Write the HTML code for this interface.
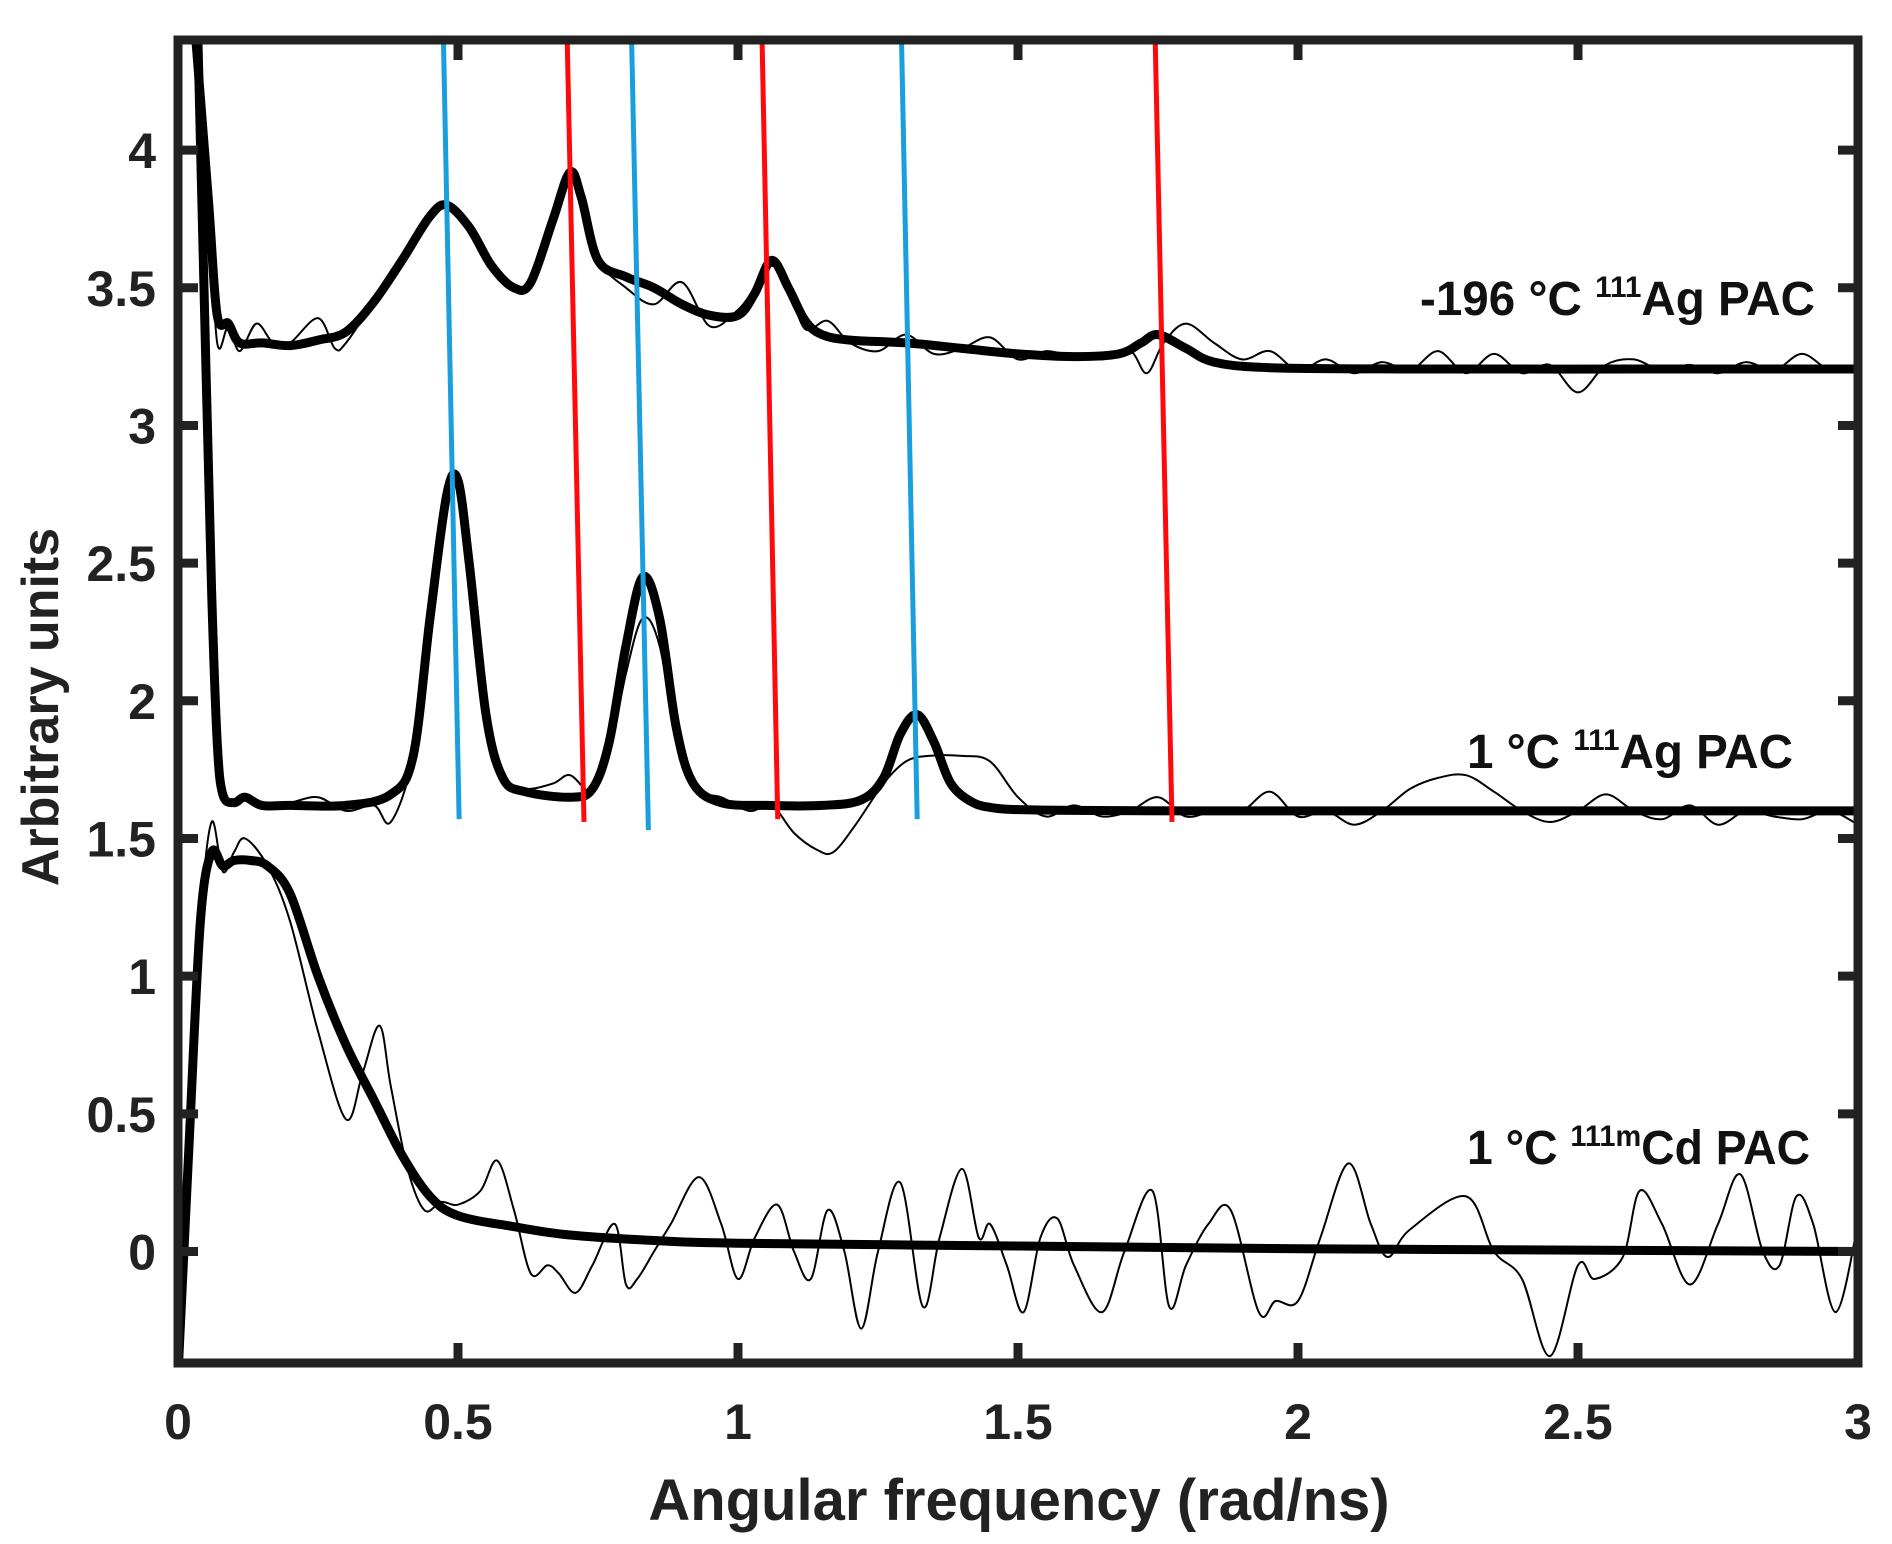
<!DOCTYPE html>
<html><head><meta charset="utf-8"><style>
html,body{margin:0;padding:0;background:#fff;}
svg{display:block;font-family:"Liberation Sans",Arial,sans-serif;}
</style></head><body>
<svg id="chart" width="1892" height="1544" viewBox="0 0 1892 1544" xmlns="http://www.w3.org/2000/svg">
<defs><clipPath id="plotclip"><rect x="178" y="40" width="1680" height="1323"/></clipPath></defs>
<g id="marks" clip-path="url(#plotclip)"></g>
<g id="axes"></g>
<text x="1019" y="1520" font-size="58" font-weight="bold" text-anchor="middle" fill="#222">Angular frequency (rad/ns)</text>
<text transform="translate(58,707) rotate(-90)" font-size="52" font-weight="bold" text-anchor="middle" fill="#222">Arbitrary units</text>
<text x="1815" y="315" font-size="48" font-weight="bold" text-anchor="end" fill="#111" textLength="395" lengthAdjust="spacingAndGlyphs">-196 °C  <tspan font-size="30" dy="-18">111</tspan><tspan dy="18">Ag PAC</tspan></text>
<text x="1793" y="768" font-size="48" font-weight="bold" text-anchor="end" fill="#111" textLength="326" lengthAdjust="spacingAndGlyphs">1 °C  <tspan font-size="30" dy="-18">111</tspan><tspan dy="18">Ag PAC</tspan></text>
<text x="1810" y="1164" font-size="48" font-weight="bold" text-anchor="end" fill="#111" textLength="343" lengthAdjust="spacingAndGlyphs">1 °C <tspan font-size="30" dy="-18">111m</tspan><tspan dy="18">Cd PAC</tspan></text>
</svg>
<script>
const xTicks=[0,0.5,1,1.5,2,2.5,3];
const xTickLabels=["0","0.5","1","1.5","2","2.5","3"];
const yTicks=[0,0.5,1,1.5,2,2.5,3,3.5,4];
const yTickLabels=["0","0.5","1","1.5","2","2.5","3","3.5","4"];
const topFitX=[0.03,0.055,0.07,0.09,0.11,0.15,0.2,0.25,0.3,0.35,0.4,0.45,0.48,0.52,0.56,0.6,0.63,0.67,0.7,0.72,0.75,0.8,0.85,0.9,0.95,1.0,1.03,1.06,1.09,1.12,1.15,1.2,1.3,1.4,1.5,1.6,1.68,1.72,1.75,1.8,1.85,1.95,2.2,2.6,3.0];
const topFitY=[4.45,3.8,3.4,3.37,3.3,3.3,3.29,3.31,3.34,3.45,3.6,3.76,3.8,3.72,3.58,3.5,3.52,3.75,3.92,3.83,3.6,3.54,3.5,3.44,3.4,3.4,3.48,3.6,3.5,3.38,3.33,3.31,3.3,3.28,3.26,3.25,3.26,3.3,3.33,3.28,3.23,3.21,3.205,3.205,3.205];
const topDataX=[0.03,0.055,0.07,0.09,0.11,0.14,0.17,0.2,0.25,0.28,0.3,0.35,0.4,0.45,0.48,0.52,0.56,0.6,0.63,0.67,0.7,0.72,0.75,0.8,0.85,0.9,0.95,1.0,1.03,1.06,1.09,1.12,1.16,1.2,1.25,1.3,1.35,1.4,1.45,1.5,1.55,1.6,1.65,1.7,1.73,1.76,1.8,1.85,1.9,1.95,2.0,2.05,2.1,2.15,2.2,2.25,2.3,2.35,2.4,2.45,2.5,2.55,2.6,2.65,2.7,2.75,2.8,2.85,2.9,2.95,3.0];
const topDataY=[4.45,3.8,3.3,3.36,3.27,3.37,3.3,3.3,3.39,3.28,3.3,3.45,3.6,3.76,3.8,3.72,3.58,3.5,3.52,3.75,3.9,3.8,3.6,3.5,3.44,3.52,3.36,3.42,3.5,3.58,3.5,3.35,3.38,3.3,3.27,3.33,3.26,3.28,3.32,3.24,3.27,3.25,3.24,3.27,3.19,3.3,3.37,3.3,3.24,3.27,3.2,3.24,3.19,3.23,3.2,3.27,3.19,3.26,3.19,3.22,3.12,3.22,3.24,3.2,3.22,3.19,3.23,3.2,3.26,3.2,3.2];
const midFitX=[0.035,0.05,0.06,0.07,0.08,0.1,0.12,0.15,0.2,0.3,0.38,0.42,0.45,0.48,0.5,0.52,0.55,0.58,0.62,0.7,0.74,0.77,0.8,0.83,0.86,0.89,0.92,0.97,1.05,1.15,1.22,1.26,1.29,1.32,1.35,1.38,1.42,1.46,1.5,1.6,1.8,2.1,2.5,3.0];
const midFitY=[4.45,3.2,2.4,1.85,1.66,1.63,1.65,1.62,1.62,1.62,1.66,1.8,2.3,2.75,2.8,2.5,1.95,1.72,1.67,1.65,1.68,1.85,2.2,2.45,2.3,1.9,1.7,1.63,1.62,1.62,1.64,1.72,1.88,1.95,1.85,1.7,1.63,1.61,1.605,1.602,1.6,1.6,1.6,1.6];
const midDataX=[0.035,0.05,0.06,0.07,0.08,0.1,0.12,0.15,0.2,0.25,0.3,0.35,0.38,0.42,0.45,0.48,0.5,0.52,0.55,0.58,0.62,0.67,0.7,0.74,0.77,0.8,0.83,0.86,0.89,0.92,0.97,1.02,1.06,1.1,1.14,1.17,1.21,1.26,1.3,1.34,1.4,1.45,1.5,1.55,1.6,1.65,1.7,1.75,1.8,1.85,1.9,1.95,2.0,2.05,2.1,2.15,2.2,2.25,2.3,2.35,2.4,2.45,2.5,2.55,2.6,2.65,2.7,2.75,2.8,2.85,2.9,2.95,3.0];
const midDataY=[4.45,3.2,2.4,1.85,1.66,1.63,1.66,1.62,1.63,1.65,1.6,1.62,1.56,1.8,2.3,2.75,2.78,2.5,1.95,1.72,1.68,1.7,1.73,1.67,1.8,2.1,2.3,2.2,1.85,1.68,1.65,1.6,1.62,1.52,1.46,1.45,1.55,1.7,1.78,1.8,1.8,1.78,1.65,1.58,1.62,1.58,1.6,1.65,1.58,1.6,1.6,1.67,1.58,1.6,1.55,1.6,1.68,1.72,1.73,1.67,1.6,1.56,1.6,1.66,1.6,1.57,1.62,1.55,1.6,1.58,1.57,1.6,1.55];
const botFitX=[0.0,0.02,0.04,0.06,0.08,0.1,0.13,0.16,0.2,0.25,0.3,0.35,0.4,0.45,0.5,0.6,0.7,0.85,1.0,1.5,2.0,2.5,3.0];
const botFitY=[-0.45,0.4,1.2,1.45,1.4,1.42,1.42,1.4,1.3,1.0,0.75,0.55,0.35,0.2,0.13,0.09,0.06,0.04,0.03,0.02,0.01,0.005,0.0];
const botDataX=[0.0,0.02,0.04,0.06,0.08,0.1,0.12,0.16,0.2,0.25,0.3,0.33,0.36,0.38,0.41,0.44,0.47,0.5,0.54,0.57,0.6,0.63,0.66,0.68,0.71,0.74,0.78,0.8,0.82,0.85,0.88,0.93,0.97,1.0,1.03,1.07,1.1,1.13,1.16,1.19,1.22,1.25,1.29,1.33,1.36,1.4,1.43,1.45,1.48,1.51,1.54,1.57,1.6,1.65,1.69,1.74,1.77,1.8,1.84,1.88,1.93,1.96,2.0,2.04,2.09,2.13,2.16,2.2,2.3,2.35,2.4,2.45,2.5,2.53,2.58,2.61,2.65,2.7,2.75,2.79,2.83,2.86,2.89,2.92,2.96,3.0];
const botDataY=[-0.45,0.4,1.2,1.56,1.38,1.45,1.5,1.4,1.2,0.8,0.48,0.65,0.82,0.6,0.3,0.15,0.18,0.17,0.22,0.33,0.15,-0.08,-0.05,-0.08,-0.15,-0.05,0.1,-0.12,-0.1,0.0,0.1,0.27,0.1,-0.1,0.05,0.17,0.0,-0.1,0.15,0.0,-0.28,0.0,0.25,-0.2,0.05,0.3,0.05,0.1,-0.05,-0.22,0.05,0.12,-0.05,-0.22,0.0,0.22,-0.2,-0.05,0.1,0.15,-0.22,-0.18,-0.18,0.05,0.32,0.1,-0.02,0.08,0.2,0.0,-0.1,-0.38,-0.05,-0.1,-0.02,0.22,0.1,-0.12,0.1,0.28,0.0,-0.05,0.2,0.1,-0.22,0.1];
const blueTopX=[0.474,0.81,1.292];
const blueBotX=[0.502,0.84,1.32];
const blueBotY=[1.57,1.53,1.57];
const redTopX=[0.695,1.043,1.745];
const redBotX=[0.725,1.071,1.775];
const redBotY=[1.56,1.57,1.56];

const X0=178,X1=1858,Y0=1363,Y1=40,XMIN=0,XMAX=3,YMIN=-0.405,YMAX=4.4;
function sx(v){return X0+(v-XMIN)/(XMAX-XMIN)*(X1-X0);}
function sy(v){return Y0-(v-YMIN)/(YMAX-YMIN)*(Y0-Y1);}
const NS="http://www.w3.org/2000/svg";
const marks=document.getElementById('marks');
const axes=document.getElementById('axes');
function pathFrom(xs,ys){
  const p=xs.map((x,i)=>[sx(x),sy(ys[i])]);
  let d="M"+p[0][0].toFixed(1)+","+p[0][1].toFixed(1);
  for(let i=0;i<p.length-1;i++){
    const a=p[Math.max(0,i-1)],b=p[i],c=p[i+1],e=p[Math.min(p.length-1,i+2)];
    const c1=[b[0]+(c[0]-a[0])/6,b[1]+(c[1]-a[1])/6];
    const c2=[c[0]-(e[0]-b[0])/6,c[1]-(e[1]-b[1])/6];
    d+="C"+c1[0].toFixed(1)+","+c1[1].toFixed(1)+" "+c2[0].toFixed(1)+","+c2[1].toFixed(1)+" "+c[0].toFixed(1)+","+c[1].toFixed(1);
  }
  return d;
}
function addCurve(xs,ys,w,name){
  const el=document.createElementNS(NS,'path');
  el.setAttribute('d',pathFrom(xs,ys));
  el.setAttribute('fill','none');el.setAttribute('stroke','#000');
  el.setAttribute('stroke-width',w);el.setAttribute('stroke-linejoin','round');
  
  
  marks.appendChild(el);
}
addCurve(topDataX,topDataY,2,'data-line-minus196-ag');
addCurve(midDataX,midDataY,2,'data-line-1c-ag');
addCurve(botDataX,botDataY,2,'data-line-1c-cd');
addCurve(topFitX,topFitY,9,'fit-line-minus196-ag');
addCurve(midFitX,midFitY,9,'fit-line-1c-ag');
addCurve(botFitX,botFitY,9,'fit-line-1c-cd');
function addMarker(tx,bx,by,col,name){
  const l=document.createElementNS(NS,'line');
  l.setAttribute('x1',sx(tx));l.setAttribute('y1',sy(YMAX));
  l.setAttribute('x2',sx(bx));l.setAttribute('y2',sy(by));
  l.setAttribute('stroke',col);l.setAttribute('stroke-width',5);
  
  
  marks.appendChild(l);
}
blueTopX.forEach((t,i)=>addMarker(t,blueBotX[i],blueBotY[i],'#1a9fdc','blue-marker-line'));
redTopX.forEach((t,i)=>addMarker(t,redBotX[i],redBotY[i],'#ff0a0a','red-marker-line'));
const fr=document.createElementNS(NS,'rect');
fr.setAttribute('x',X0);fr.setAttribute('y',Y1);fr.setAttribute('width',X1-X0);fr.setAttribute('height',Y0-Y1);
fr.setAttribute('fill','none');fr.setAttribute('stroke','#222');fr.setAttribute('stroke-width',9);


axes.appendChild(fr);
function tick(x1,y1,x2,y2,name){
  const t=document.createElementNS(NS,'line');
  t.setAttribute('x1',x1);t.setAttribute('y1',y1);t.setAttribute('x2',x2);t.setAttribute('y2',y2);
  t.setAttribute('stroke','#222');t.setAttribute('stroke-width',9);
  
  
  axes.appendChild(t);
}
function label(x,y,s,anchor,name){
  const t=document.createElementNS(NS,'text');
  t.setAttribute('x',x);t.setAttribute('y',y);t.setAttribute('text-anchor',anchor);
  t.setAttribute('font-size',50);t.setAttribute('font-weight','bold');t.setAttribute('fill','#222');
  t.textContent=s;
  
  
  axes.appendChild(t);
}
xTicks.forEach((v,i)=>{
  const x=sx(v);
  tick(x,Y0,x,Y0-20,'x-tick');
  tick(x,Y1,x,Y1+20,'x-tick-top');
  label(x,Y0+76,xTickLabels[i],'middle','x-tick-label');
});
yTicks.forEach((v,i)=>{
  const y=sy(v);
  tick(X0,y,X0+20,y,'y-tick');
  tick(X1,y,X1-20,y,'y-tick-right');
  label(X0-22,y+18,yTickLabels[i],'end','y-tick-label');
});
</script>
</body></html>
